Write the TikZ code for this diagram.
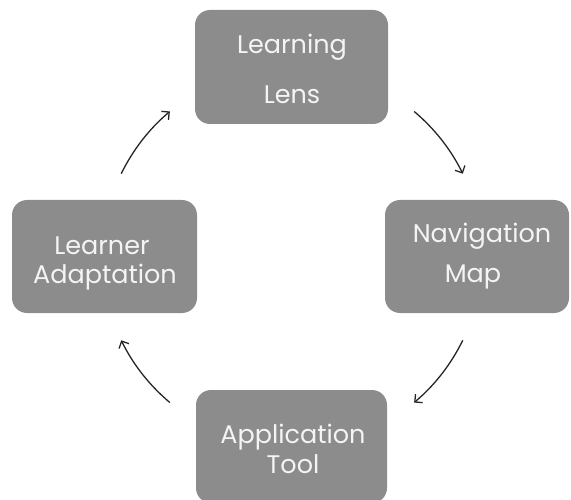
\documentclass[tikz,border=0pt]{standalone}
\usepackage{fontspec}
\setmainfont{Poppins}
\usetikzlibrary{arrows.meta}
\definecolor{boxgray}{RGB}{140,140,140}
\definecolor{boxtext}{RGB}{244,244,244}
\begin{document}
\begin{tikzpicture}[x=1pt,y=1pt,
  stagebox/.style={fill=boxgray, draw=none, rounded corners=15pt, inner sep=0pt},
  stagelbl/.style={text=boxtext, anchor=base, inner sep=0pt, font=\fontsize{25.5}{30}\selectfont},
  cyclearrow/.style={line width=1.3pt, draw=black!85, -{Straight Barb[length=5.5pt,width=11pt,line width=1.3pt]}}]
  \useasboundingbox (0,0) rectangle (571,499);

  % four stages of the cycle
  \node[stagebox, minimum width=193pt, minimum height=114pt] (lens) at (291.5,432) {};
  \node[stagebox, minimum width=184pt, minimum height=113pt] (nav)  at (477,242.5) {};
  \node[stagebox, minimum width=191pt, minimum height=113pt] (tool) at (291.5,52.5) {};
  \node[stagebox, minimum width=185pt, minimum height=113pt] (adapt) at (104.5,242.5) {};

  \node[stagelbl] (lens1) at (292,445) {Learning};
  \node[stagelbl] (lens2) at (292,395) {Lens};
  \node[stagelbl] (nav1) at (482,256) {Navigation};
  \node[stagelbl] (nav2) at (473,216) {Map};
  \node[stagelbl] (tool1) at (293,56) {Application};
  \node[stagelbl] (tool2) at (293,26) {Tool};
  \node[stagelbl] (adapt1) at (102,244) {Learner};
  \node[stagelbl] (adapt2) at (105,215) {Adaptation};

  % circular arrows linking the stages
  \coordinate (hub) at (292,242);
  \draw[cyclearrow] (hub) ++(154:190) arc[start angle=154, end angle=130, radius=190];
  \draw[cyclearrow] (hub) ++(50:190) arc[start angle=50, end angle=26, radius=190];
  \draw[cyclearrow] (hub) ++(-26:190) arc[start angle=-26, end angle=-50, radius=190];
  \draw[cyclearrow] (hub) ++(-130:190) arc[start angle=-130, end angle=-154, radius=190];
\end{tikzpicture}
\end{document}
